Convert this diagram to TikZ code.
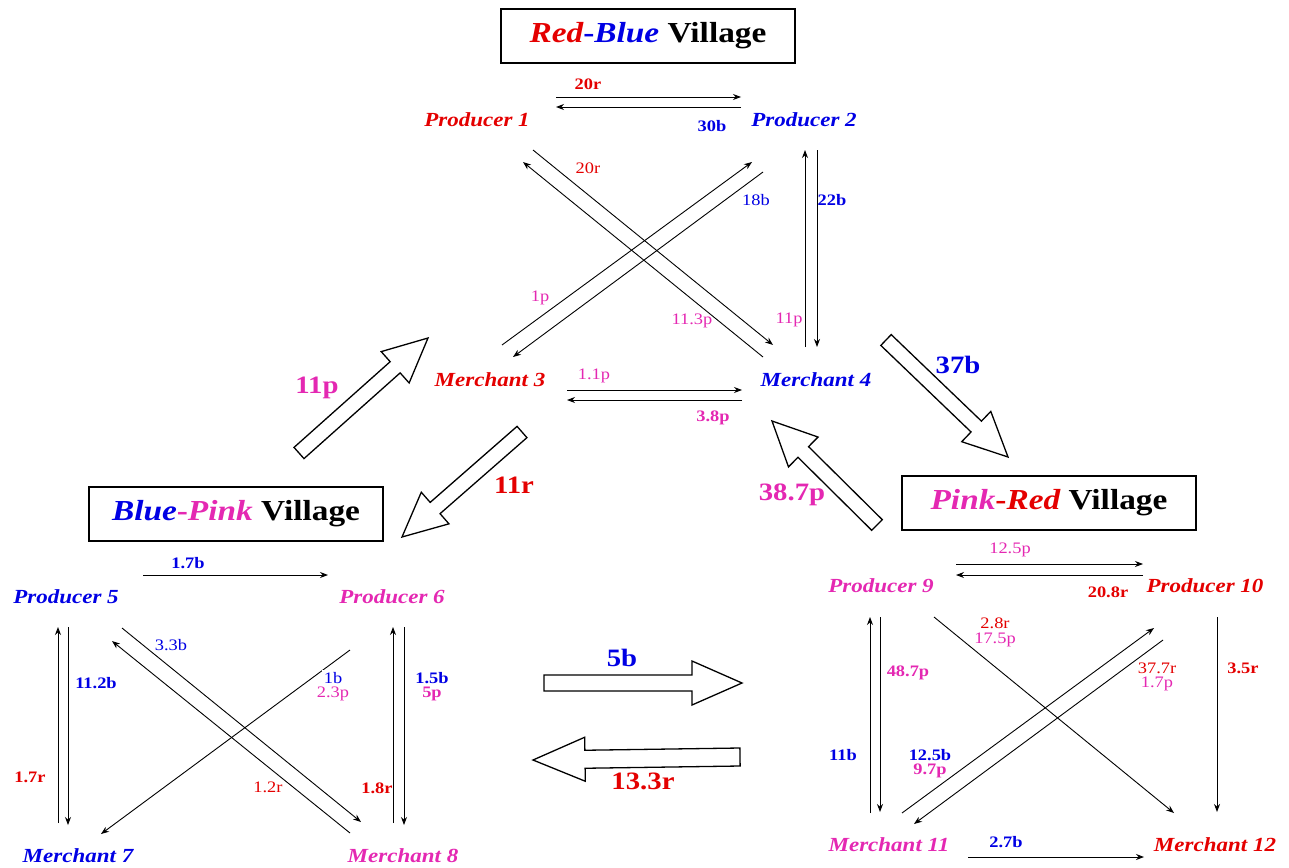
\documentclass[tikz,border=0pt]{standalone}
\usepackage{fontspec}
\setmainfont{Liberation Serif}[FakeStretch=1.15]
\usetikzlibrary{calc,arrows.meta}
\definecolor{cred}{RGB}{228,0,0}
\definecolor{cblue}{RGB}{0,0,228}
\definecolor{cpink}{RGB}{228,40,178}
\newcommand\hollowarr[5]{%
  \coordinate (hb) at ($(#2)!#5!(#1)$);
  \draw[bigarr] ($(#1)!#3!90:(#2)$) -- ($(hb)!#3!90:(#2)$) -- ($(hb)!#4!90:(#2)$) -- (#2)
    -- ($(hb)!#4!-90:(#2)$) -- ($(hb)!#3!-90:(#2)$) -- ($(#1)!#3!-90:(#2)$) -- cycle;
}
\begin{document}
\begin{tikzpicture}[x=1pt,y=-1pt,
  actor/.style={font=\fontsize{20}{20}\selectfont\bfseries\itshape, inner sep=1pt},
  village/.style={draw, line width=1.6pt, minimum width=294pt, minimum height=54pt, inner sep=0pt,
     font=\fontsize{29}{29}\selectfont\bfseries},
  lab/.style={font=\fontsize{16}{16}\selectfont, inner sep=0.5pt},
  blab/.style={font=\fontsize{16}{16}\selectfont\bfseries, inner sep=0.5pt},
  biglab/.style={font=\fontsize{25}{25}\selectfont\bfseries, inner sep=0.5pt},
  arr/.style={line width=0.9pt, -{Stealth[length=8pt,width=6pt]}},
  ln/.style={line width=0.9pt},
  bigarr/.style={line width=1.3pt, line join=miter, fill=white},
]
\useasboundingbox (0,0) rectangle (1289,867);

% villages
\node[village] (V1) at (648,36) {\textcolor{cred}{\itshape Red}\textcolor{cblue}{-\itshape Blue} Village};
\node[village] (V2) at (236,514) {\textcolor{cblue}{\itshape Blue}\textcolor{cpink}{-\itshape Pink} Village};
\node[village] (V3) at (1049,503) {\textcolor{cpink}{\itshape Pink}\textcolor{cred}{-\itshape Red} Village};

% actors
\node[actor, text=cred]  (P1) at (477,120) {Producer 1};
\node[actor, text=cblue] (P2) at (804,120) {Producer 2};
\node[actor, text=cred]  (M3) at (490,380) {Merchant 3};
\node[actor, text=cblue] (M4) at (816,380) {Merchant 4};
\node[actor, text=cblue] (P5) at (66,597) {Producer 5};
\node[actor, text=cpink] (P6) at (392,597) {Producer 6};
\node[actor, text=cblue] (M7) at (78,856) {Merchant 7};
\node[actor, text=cpink] (M8) at (403,856) {Merchant 8};
\node[actor, text=cpink] (P9) at (881,586) {Producer 9};
\node[actor, text=cred]  (P10) at (1205,586) {Producer 10};
\node[actor, text=cpink] (M11) at (889,845) {Merchant 11};
\node[actor, text=cred]  (M12) at (1215,845) {Merchant 12};

% ---------- Red-Blue village connectors ----------
\coordinate (a1) at (556,97);  \coordinate (a2) at (741,97);
\coordinate (a3) at (741,107); \coordinate (a4) at (556,107);
\draw[arr] (a1) -- (a2);
\draw[arr] (a3) -- (a4);
\coordinate (b1) at (533,150); \coordinate (b2) at (773,345);
\coordinate (b3) at (763,357); \coordinate (b4) at (523,162);
\draw[arr] (b1) -- (b2);
\draw[arr] (b3) -- (b4);
\coordinate (c1) at (502,345); \coordinate (c2) at (752,162);
\coordinate (c3) at (763,172); \coordinate (c4) at (513,357);
\draw[arr] (c1) -- (c2);
\draw[arr] (c3) -- (c4);
\coordinate (d1) at (805,347); \coordinate (d2) at (805,150);
\coordinate (d3) at (817,150); \coordinate (d4) at (817,347);
\draw[arr] (d1) -- (d2);
\draw[arr] (d3) -- (d4);
\coordinate (e1) at (567,390); \coordinate (e2) at (742,390);
\coordinate (e3) at (742,400); \coordinate (e4) at (567,400);
\draw[arr] (e1) -- (e2);
\draw[arr] (e3) -- (e4);

\node[blab, text=cred]  (l1) at (588,84) {20r};
\node[blab, text=cblue] (l2) at (712,126) {30b};
\node[lab, text=cred, fill=white]  (l3) at (588,168) {20r};
\node[lab, text=cblue, fill=white] (l4) at (756,200) {18b};
\node[blab, text=cblue] (l5) at (832,200) {22b};
\node[lab, text=cpink]  (l6) at (540,298) {1p};
\node[lab, text=cpink]  (l7) at (692,321) {11.3p};
\node[lab, text=cpink]  (l8) at (789,320) {11p};
\node[lab, text=cpink]  (l9) at (594,376) {1.1p};
\node[blab, text=cpink] (l10) at (713,418) {3.8p};

% ---------- Blue-Pink village connectors ----------
\coordinate (f1) at (143,575); \coordinate (f2) at (328,575);
\draw[arr] (f1) -- (f2);
\coordinate (g1) at (58,823); \coordinate (g2) at (58,627);
\coordinate (g3) at (68,627); \coordinate (g4) at (68,825);
\draw[arr] (g1) -- (g2);
\draw[arr] (g3) -- (g4);
\coordinate (h1) at (393,823); \coordinate (h2) at (393,627);
\coordinate (h3) at (404,627); \coordinate (h4) at (404,825);
\draw[arr] (h1) -- (h2);
\draw[arr] (h3) -- (h4);
\coordinate (i1) at (350,833); \coordinate (i2) at (112,641);
\coordinate (i3) at (122,628); \coordinate (i4) at (361,822);
\draw[arr] (i1) -- (i2);
\draw[arr] (i3) -- (i4);
\coordinate (j1) at (350,650); \coordinate (j2) at (101,834);
\draw[arr] (j1) -- (j2);

\node[blab, text=cblue] (m1) at (188,563) {1.7b};
\node[lab, text=cblue, fill=white] (m2) at (171,645) {3.3b};
\node[blab, text=cblue] (m3) at (96,683) {11.2b};
\node[blab, text=cred]  (m4) at (30,777) {1.7r};
\node[lab, text=cblue, fill=white, inner sep=2pt] (m5) at (333,678) {1b};
\node[lab, text=cpink] (m6) at (333,694) {2.3p};
\node[blab, text=cblue] (m7) at (432,678) {1.5b};
\node[blab, text=cpink] (m8) at (432,694) {5p};
\node[lab, text=cred]   (m9) at (268,787) {1.2r};
\node[blab, text=cred]  (m10) at (377,788) {1.8r};

% ---------- Pink-Red village connectors ----------
\coordinate (n1) at (956,564); \coordinate (n2) at (1143,564);
\coordinate (n3) at (1143,575); \coordinate (n4) at (956,575);
\draw[arr] (n1) -- (n2);
\draw[arr] (n3) -- (n4);
\coordinate (o1) at (870,813); \coordinate (o2) at (870,617);
\coordinate (o3) at (880,617); \coordinate (o4) at (880,812);
\draw[arr] (o1) -- (o2);
\draw[arr] (o3) -- (o4);
\coordinate (q1) at (1217,617); \coordinate (q2) at (1217,812);
\draw[arr] (q1) -- (q2);
\coordinate (r1) at (934,617); \coordinate (r2) at (1174,813);
\draw[arr] (r1) -- (r2);
\coordinate (s1) at (902,813); \coordinate (s2) at (1154,628);
\coordinate (s3) at (1163,640); \coordinate (s4) at (914,824);
\draw[arr] (s1) -- (s2);
\draw[arr] (s3) -- (s4);
\coordinate (t1) at (968,857); \coordinate (t2) at (1144,857);
\draw[arr] (t1) -- (t2);

\node[lab, text=cpink]  (u1) at (1010,550) {12.5p};
\node[blab, text=cred]  (u2) at (1108,592) {20.8r};
\node[lab, text=cred, fill=white]  (u3) at (995,623) {2.8r};
\node[lab, text=cpink]  (u4) at (995,640) {17.5p};
\node[blab, text=cpink] (u5) at (908,673) {48.7p};
\node[blab, text=cred]  (u6) at (1243,668) {3.5r};
\node[lab, text=cred, fill=white]   (u7) at (1157,668) {37.7r};
\node[lab, text=cpink]  (u8) at (1157,684) {1.7p};
\node[blab, text=cblue] (u9) at (843,755) {11b};
\node[blab, text=cblue] (u10) at (930,755) {12.5b};
\node[blab, text=cpink] (u11) at (930,771) {9.7p};
\node[blab, text=cblue] (u12) at (1006,842) {2.7b};

% ---------- big hollow arrows ----------
\coordinate (A1t) at (299,453); \coordinate (A1h) at (428,338);
\hollowarr{A1t}{A1h}{7.5pt}{21pt}{44pt}
\coordinate (A2t) at (522,432); \coordinate (A2h) at (402,537);
\hollowarr{A2t}{A2h}{7.5pt}{21pt}{44pt}
\coordinate (A3t) at (886,340); \coordinate (A3h) at (1008,457);
\hollowarr{A3t}{A3h}{7.5pt}{21pt}{44pt}
\coordinate (A4t) at (877,525); \coordinate (A4h) at (772,421);
\hollowarr{A4t}{A4h}{7.5pt}{21pt}{44pt}
\coordinate (A5t) at (544,683); \coordinate (A5h) at (742,683);
\hollowarr{A5t}{A5h}{8pt}{22pt}{50pt}
\coordinate (A6t) at (740,757); \coordinate (A6h) at (533,760);
\hollowarr{A6t}{A6h}{9pt}{22pt}{52pt}

\node[biglab, text=cpink] (B1) at (317,388) {11p};
\node[biglab, text=cred]  (B2) at (514,485) {11r};
\node[biglab, text=cblue] (B3) at (958,365) {37b};
\node[biglab, text=cpink] (B4) at (792,495) {38.7p};
\node[biglab, text=cblue] (B5) at (622,658) {5b};
\node[biglab, text=cred]  (B6) at (643,781) {13.3r};
\end{tikzpicture}
\end{document}
